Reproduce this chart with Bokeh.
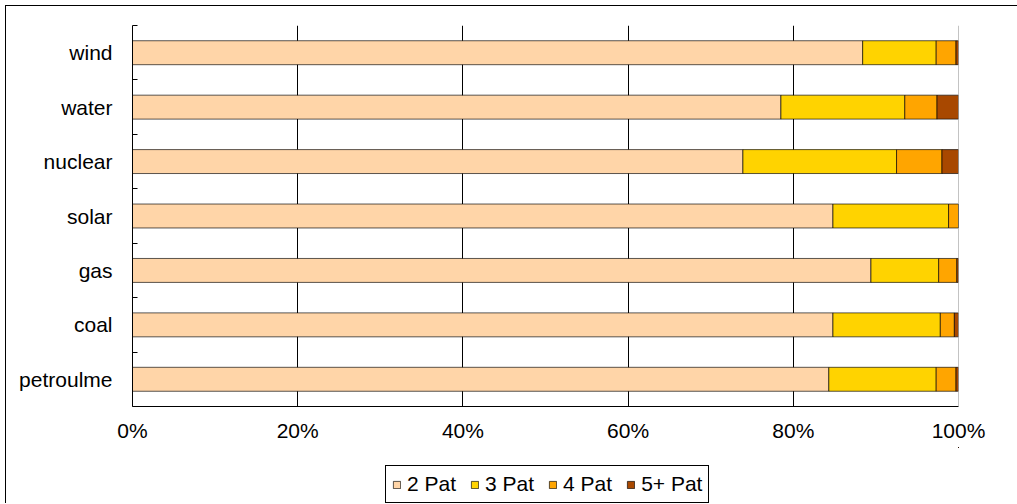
from bokeh.plotting import figure
from bokeh.layouts import column
from bokeh.models import ColumnDataSource, FixedTicker, Legend, LegendItem, Span, Range1d
from bokeh.embed import file_html
from bokeh.resources import INLINE

categories = ["petroulme", "coal", "gas", "solar", "nuclear", "water", "wind"]
pat2 = [84.3, 84.8, 89.4, 84.8, 73.9, 78.5, 88.4]
pat3 = [13.0, 13.0, 8.2, 14.0, 18.6, 15.0, 8.9]
pat4 = [2.4, 1.7, 2.2, 1.2, 5.5, 3.9, 2.4]
pat5 = [0.3, 0.5, 0.2, 0.0, 2.0, 2.6, 0.3]
series = ["2 Pat", "3 Pat", "4 Pat", "5+ Pat"]
colors = ["#FFD5A8", "#FFD300", "#FFA500", "#A84800"]
x_ticks = [0, 20, 40, 60, 80, 100]

ypos = [i + 0.5 for i in range(len(categories))]
source = ColumnDataSource(dict(y=ypos, **{"2 Pat": pat2, "3 Pat": pat3, "4 Pat": pat4, "5+ Pat": pat5}))

FONT = "Liberation Sans"
FS = "21px"
BAR_KW = dict(height=0.44, color=colors, line_color="black", line_alpha=0.65, line_width=1)

p = figure(width=1011, height=441, output_backend="svg", toolbar_location=None,
           x_range=Range1d(0, 100), y_range=Range1d(0, len(categories)),
           min_border_left=126, min_border_right=59, min_border_top=19, min_border_bottom=41)
p.outline_line_color = None

p.hbar_stack(series, y="y", source=source, **BAR_KW)

# x axis
p.xaxis.ticker = FixedTicker(ticks=x_ticks)
p.xaxis.major_label_overrides = {t: f"{t}%" for t in x_ticks}
p.xaxis.major_tick_in = 0
p.xaxis.major_tick_out = 0
p.xaxis.minor_tick_in = 0
p.xaxis.minor_tick_out = 0
p.xaxis.axis_line_color = "black"
p.xaxis.major_label_standoff = 12
p.xaxis.major_label_text_font = FONT
p.xaxis.major_label_text_font_size = FS
p.xaxis.major_label_text_color = "black"

# y axis
p.yaxis.ticker = FixedTicker(ticks=ypos, minor_ticks=list(range(len(categories) + 1)))
p.yaxis.major_label_overrides = {y: c for y, c in zip(ypos, categories)}
p.yaxis.major_tick_in = 0
p.yaxis.major_tick_out = 0
p.yaxis.minor_tick_in = 5
p.yaxis.minor_tick_out = 0
p.yaxis.minor_tick_line_color = "black"
p.yaxis.axis_line_color = "black"
p.yaxis.major_label_standoff = 20
p.yaxis.major_label_text_font = FONT
p.yaxis.major_label_text_font_size = FS
p.yaxis.major_label_text_color = "black"

# grids
p.ygrid.grid_line_color = None
p.xgrid.ticker = FixedTicker(ticks=[20, 40, 60, 80])
p.xgrid.grid_line_color = "black"
p.xgrid.grid_line_width = 1
p.add_layout(Span(location=100, dimension="height", line_color="#888888", line_width=1))

# legend strip (same data, drawn out of view so only the legend shows)
lg = figure(width=1011, height=56, output_backend="svg", toolbar_location=None,
            x_range=Range1d(-3, -2), y_range=Range1d(-3, -2),
            x_axis_location=None, y_axis_location=None,
            min_border_left=0, min_border_right=0, min_border_top=0, min_border_bottom=0)
lg.outline_line_color = None
lg.grid.grid_line_color = None
lrenderers = lg.hbar_stack(series, y="y", source=source, **BAR_KW)

legend = Legend(items=[LegendItem(label=s, renderers=[r]) for s, r in zip(series, lrenderers)],
                orientation="horizontal", location=(253, 0))
legend.label_text_font = FONT
legend.label_text_font_size = FS
legend.label_text_color = "black"
legend.glyph_width = 9
legend.glyph_height = 9
legend.label_standoff = 6
legend.spacing = 14
legend.padding = 6
legend.label_height = 18
legend.margin = 0
legend.border_line_color = "black"
legend.border_line_width = 1
legend.border_line_alpha = 1
lg.add_layout(legend, "center")

layout = column(p, lg, spacing=0)
layout.styles = {"margin-left": "5px", "margin-top": "5px",
                 "border-left": "1px solid black", "border-top": "1px solid black"}

open("out.html", "w").write(file_html(layout, INLINE))
